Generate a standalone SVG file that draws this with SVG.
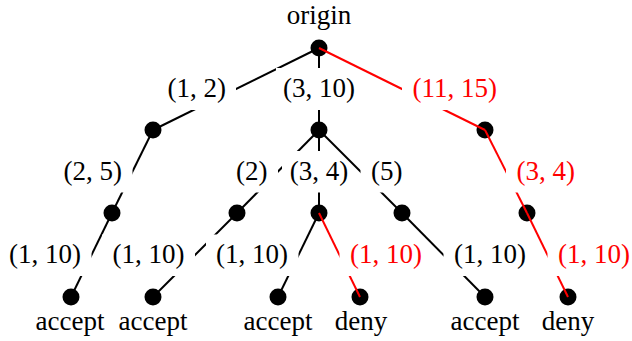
<svg xmlns="http://www.w3.org/2000/svg" width="632" height="341" viewBox="0 0 632 341">
<style>
.t{font-family:"Liberation Serif","Times New Roman",serif;font-size:27px;fill:#000}
.tr{fill:#f00}
.e{stroke:#000;stroke-width:2;fill:none}
.er{stroke:#f00;stroke-width:2;fill:none}
.b{fill:#fff;stroke:none}
.n{fill:#000}
</style>
<rect width="632" height="341" fill="#fff"/>
<g id="nodes">
<g id="n-origin"><circle class="n" cx="319" cy="48" r="8.5"/><text class="t" x="319" y="24" text-anchor="middle">origin</text></g>
<g id="n-a"><circle class="n" cx="153" cy="130" r="8.5"/></g>
<g id="n-b"><circle class="n" cx="319" cy="130" r="8.5"/></g>
<g id="n-c"><circle class="n" cx="485" cy="130" r="8.5"/></g>
<g id="n-a1"><circle class="n" cx="112" cy="213" r="8.5"/></g>
<g id="n-b1"><circle class="n" cx="237" cy="213" r="8.5"/></g>
<g id="n-b2"><circle class="n" cx="319" cy="213" r="8.5"/></g>
<g id="n-b3"><circle class="n" cx="402" cy="213" r="8.5"/></g>
<g id="n-c1"><circle class="n" cx="527" cy="213" r="8.5"/></g>
<g id="n-l1"><circle class="n" cx="71" cy="297" r="8.5"/><text class="t" x="70" y="330" text-anchor="middle">accept</text></g>
<g id="n-l2"><circle class="n" cx="153" cy="297" r="8.5"/><text class="t" x="153" y="330" text-anchor="middle">accept</text></g>
<g id="n-l3"><circle class="n" cx="278" cy="297" r="8.5"/><text class="t" x="278" y="330" text-anchor="middle">accept</text></g>
<g id="n-l4"><circle class="n" cx="360" cy="297" r="8.5"/><text class="t" x="361" y="330" text-anchor="middle">deny</text></g>
<g id="n-l5"><circle class="n" cx="485" cy="297" r="8.5"/><text class="t" x="485" y="330" text-anchor="middle">accept</text></g>
<g id="n-l6"><circle class="n" cx="568" cy="297" r="8.5"/><text class="t" x="568" y="330" text-anchor="middle">deny</text></g>
</g>
<g id="connectors">
<g><line class="e" x1="319" y1="48" x2="153" y2="130"/><rect class="b" x="158" y="68" width="78" height="42"/><text class="t" x="226" y="97" text-anchor="end">(1, 2)</text></g>
<g><line class="e" x1="153" y1="130" x2="112" y2="213"/><rect class="b" x="54" y="151" width="78.5" height="41.5"/><text class="t" x="122" y="180" text-anchor="end">(2, 5)</text></g>
<g><line class="e" x1="112" y1="213" x2="71" y2="297"/><rect class="b" x="-1" y="234.5" width="92.5" height="41.5"/><text class="t" x="81" y="263" text-anchor="end">(1, 10)</text></g>
<g><line class="e" x1="319" y1="48" x2="319" y2="130"/><rect class="b" x="276" y="68" width="86" height="42"/><text class="t" x="319" y="97" text-anchor="middle">(3, 10)</text></g>
<g><line class="e" x1="319" y1="130" x2="237" y2="213"/><rect class="b" x="227" y="151" width="51" height="41.5"/><text class="t" x="267.5" y="180" text-anchor="end">(2)</text></g>
<g><line class="e" x1="237" y1="213" x2="153" y2="297"/><rect class="b" x="102" y="234.5" width="93" height="41.5"/><text class="t" x="184.5" y="263" text-anchor="end">(1, 10)</text></g>
<g><line class="e" x1="319" y1="130" x2="319" y2="213"/><rect class="b" x="282" y="151" width="74" height="41.5"/><text class="t" x="319" y="180" text-anchor="middle">(3, 4)</text></g>
<g><line class="e" x1="319" y1="213" x2="278" y2="297"/><rect class="b" x="206" y="234.5" width="92.5" height="41.5"/><text class="t" x="288" y="263" text-anchor="end">(1, 10)</text></g>
<g><line class="er" x1="319" y1="213" x2="360" y2="297"/><rect class="b" x="339.5" y="234.5" width="92.5" height="41.5"/><text class="t tr" x="350" y="263">(1, 10)</text></g>
<g><line class="e" x1="319" y1="130" x2="402" y2="213"/><rect class="b" x="360.5" y="151" width="50" height="41.5"/><text class="t" x="371" y="180">(5)</text></g>
<g><line class="e" x1="402" y1="213" x2="485" y2="297"/><rect class="b" x="443.5" y="234.5" width="92.5" height="41.5"/><text class="t" x="454" y="263">(1, 10)</text></g>
<g><line class="er" x1="319" y1="48" x2="485" y2="130"/><rect class="b" x="402" y="68" width="106" height="42"/><text class="t tr" x="412.5" y="97">(11, 15)</text></g>
<g><line class="er" x1="485" y1="130" x2="527" y2="213"/><rect class="b" x="506" y="151" width="80" height="41.5"/><text class="t tr" x="516.5" y="180">(3, 4)</text></g>
<g><line class="er" x1="527" y1="213" x2="568" y2="297"/><rect class="b" x="547.5" y="234.5" width="85" height="41.5"/><text class="t tr" x="558" y="263">(1, 10)</text></g>
</g>
</svg>
